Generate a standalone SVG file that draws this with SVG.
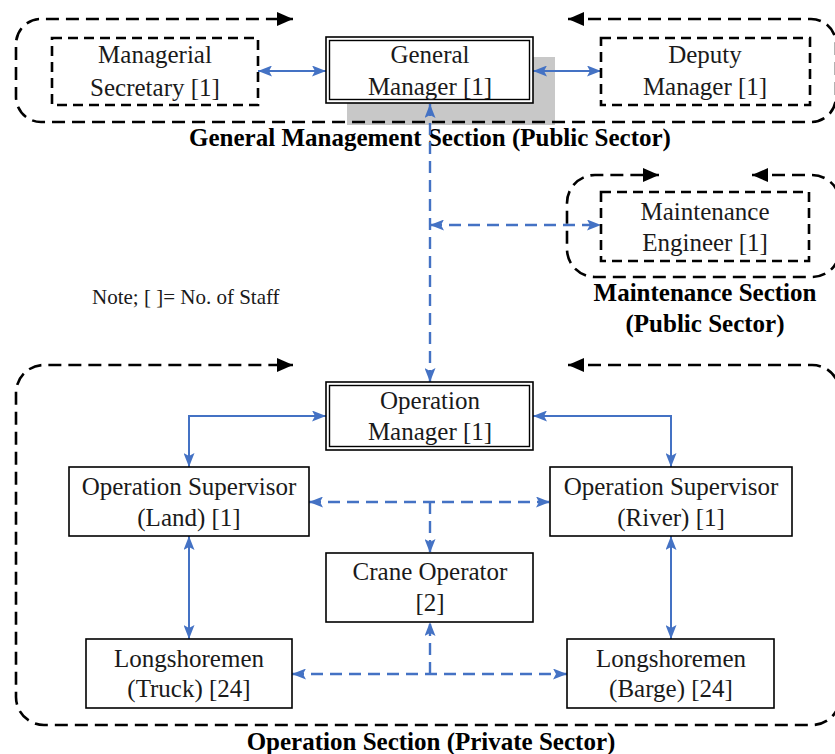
<svg xmlns="http://www.w3.org/2000/svg" width="835" height="754" viewBox="0 0 835 754">
<style>
text{font-family:"Liberation Serif","Times New Roman",serif;font-size:25px;fill:#1a1a1a;text-anchor:middle}
.b{font-weight:bold;fill:#000}
.note{font-size:21px;text-anchor:start}
.box{fill:#fff;stroke:#000;stroke-width:1.6}
.dbox{fill:#fff;stroke:#000;stroke-width:2.6;stroke-dasharray:10 6}
.sec{fill:none;stroke:#000;stroke-width:2.6;stroke-dasharray:13 7}
.cs{fill:none;stroke:#4472C4;stroke-width:2}
.cd{fill:none;stroke:#4472C4;stroke-width:2.4;stroke-dasharray:12 7}
</style>
<defs>
<marker id="ab" viewBox="0 0 14 11" refX="14" refY="5.5" markerWidth="14" markerHeight="11" markerUnits="userSpaceOnUse" orient="auto-start-reverse">
<path d="M0,0 L14,5.5 L0,11 L3,5.5 z" fill="#4472C4"/>
</marker>
<marker id="ak" viewBox="0 0 16 14" refX="16" refY="7" markerWidth="16" markerHeight="14" markerUnits="userSpaceOnUse" orient="auto-start-reverse">
<path d="M0,0 L16,7 L0,14 z" fill="#000"/>
</marker>
</defs>

<g id="sections">
<rect x="347" y="57" width="208" height="68" fill="#c8c8c8"/>
<path class="sec" d="M568,19 L811,19 A25 25 0 0 1 836,44 L836,97 A25 25 0 0 1 811,122 L41,122 A25 25 0 0 1 16,97 L16,44 A25 25 0 0 1 41,19 L293,19" marker-start="url(#ak)" marker-end="url(#ak)"/>
<path class="sec" d="M752,175 L812,175 A28 28 0 0 1 840,203 L840,249 A28 28 0 0 1 812,277 L595,277 A28 28 0 0 1 567,249 L567,203 A28 28 0 0 1 595,175 L659,175" marker-start="url(#ak)" marker-end="url(#ak)"/>
<path class="sec" d="M568,365 L812,365 A28 28 0 0 1 840,393 L840,697 A28 28 0 0 1 812,725 L44,725 A28 28 0 0 1 16,697 L16,393 A28 28 0 0 1 44,365 L293,365" marker-start="url(#ak)" marker-end="url(#ak)"/>
<text class="b" x="430" y="146">General Management Section (Public Sector)</text>
<text class="b" x="705" y="301">Maintenance Section</text>
<text class="b" x="705" y="332">(Public Sector)</text>
<text class="b" x="431" y="750">Operation Section (Private Sector)</text>
<text class="note" x="92" y="304">Note; [ ]= No. of Staff</text>
</g>

<g id="connectors">
<path class="cs" d="M258,71 L326,71" marker-start="url(#ab)" marker-end="url(#ab)"/>
<path class="cs" d="M533,71 L601,71" marker-start="url(#ab)" marker-end="url(#ab)"/>
<path class="cd" d="M430,104 L430,382" marker-start="url(#ab)" marker-end="url(#ab)"/>
<path class="cd" d="M430,225 L601,225" marker-start="url(#ab)" marker-end="url(#ab)"/>
<path class="cs" d="M326,416 L189,416 L189,467" marker-start="url(#ab)" marker-end="url(#ab)"/>
<path class="cs" d="M533,416 L671,416 L671,467" marker-start="url(#ab)" marker-end="url(#ab)"/>
<path class="cd" d="M309,502 L550,502" marker-start="url(#ab)" marker-end="url(#ab)"/>
<path class="cd" d="M430,502 L430,553" marker-end="url(#ab)"/>
<path class="cs" d="M189,536 L189,639" marker-start="url(#ab)" marker-end="url(#ab)"/>
<path class="cs" d="M671,536 L671,639" marker-start="url(#ab)" marker-end="url(#ab)"/>
<path class="cd" d="M292,674 L567,674" marker-start="url(#ab)" marker-end="url(#ab)"/>
<path class="cd" d="M430,674 L430,622" marker-end="url(#ab)"/>
</g>

<g id="managerial-secretary">
<rect class="dbox" x="52" y="38" width="206" height="67"/>
<text x="155" y="63">Managerial</text>
<text x="155" y="96">Secretary [1]</text>
</g>
<g id="general-manager">
<rect class="box" x="326" y="37" width="207" height="66"/>
<rect fill="none" stroke="#000" stroke-width="1.4" x="329.5" y="40.5" width="200" height="59"/>
<text x="430" y="63">General</text>
<text x="430" y="95">Manager [1]</text>
</g>
<g id="deputy-manager">
<rect class="dbox" x="601" y="38" width="209" height="67"/>
<text x="705" y="63">Deputy</text>
<text x="705" y="95">Manager [1]</text>
</g>
<g id="maintenance-engineer">
<rect class="dbox" x="601" y="192" width="208" height="69"/>
<text x="705" y="220">Maintenance</text>
<text x="705" y="251">Engineer [1]</text>
</g>
<g id="operation-manager">
<rect class="box" x="326" y="382" width="207" height="68"/>
<rect fill="none" stroke="#000" stroke-width="1.4" x="329.5" y="385.5" width="200" height="61"/>
<text x="430" y="409">Operation</text>
<text x="430" y="440">Manager [1]</text>
</g>
<g id="op-supervisor-land">
<rect class="box" x="69" y="467" width="240" height="69"/>
<text x="189" y="495">Operation Supervisor</text>
<text x="189" y="526">(Land) [1]</text>
</g>
<g id="op-supervisor-river">
<rect class="box" x="550" y="467" width="242" height="69"/>
<text x="671" y="495">Operation Supervisor</text>
<text x="671" y="526">(River) [1]</text>
</g>
<g id="crane-operator">
<rect class="box" x="326" y="553" width="207" height="69"/>
<text x="430" y="580">Crane Operator</text>
<text x="430" y="611">[2]</text>
</g>
<g id="longshoremen-truck">
<rect class="box" x="86" y="639" width="206" height="69"/>
<text x="189" y="667">Longshoremen</text>
<text x="189" y="697">(Truck) [24]</text>
</g>
<g id="longshoremen-barge">
<rect class="box" x="567" y="639" width="207" height="69"/>
<text x="671" y="667">Longshoremen</text>
<text x="671" y="697">(Barge) [24]</text>
</g>
</svg>
